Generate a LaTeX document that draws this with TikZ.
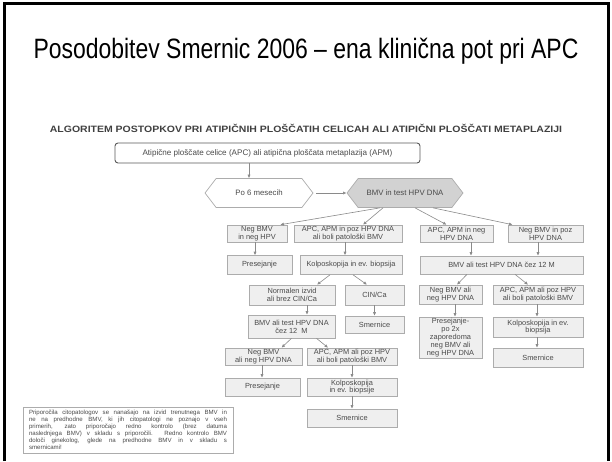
\documentclass[tikz,border=0pt]{standalone}
\usepackage{fontspec}
\setmainfont{Liberation Sans}
\usepackage{tikz}
\usetikzlibrary{arrows.meta,shapes.symbols}
\definecolor{boxline}{HTML}{ACACAC}
\definecolor{boxfill}{HTML}{EFEFEF}
\definecolor{boxtext}{HTML}{4A4A4A}
\definecolor{hexfill}{HTML}{D2D2D2}
\definecolor{pil}{HTML}{8A8A8A}
\tikzset{
  korak/.style={draw=boxline, fill=boxfill, line width=0.6pt, inner sep=0.5pt,
    text=boxtext, align=center, font=\fontsize{7.4}{7.8}\selectfont},
  heks/.style={signal, signal to=west and east, signal pointer angle=105,
    draw=boxline, line width=0.7pt, inner sep=1pt, text=boxtext,
    font=\fontsize{7.8}{8}\selectfont},
  pus/.style={-{Latex[length=3.5pt,width=3.2pt]}, draw=pil, line width=0.6pt}
}
\begin{document}
\begin{tikzpicture}[x=1pt, y=-1pt]
\useasboundingbox (0,0) rectangle (612,461);
% okvir prosojnice
\draw[line width=3pt] (4,461) -- (4,3.5) -- (608,3.5) -- (608,461);

% naslov
\node (naslov) at (306,51) {\scalebox{0.82}[1]{\fontsize{28}{32}\selectfont Posodobitev Smernic 2006 -- ena klinična pot pri APC}};
\node[text=black!75] (algoritem) at (306,128)
  {\scalebox{1.14}[1]{\bfseries\fontsize{9.2}{10}\selectfont ALGORITEM POSTOPKOV PRI ATIPIČNIH PLOŠČATIH CELICAH ALI ATIPIČNI PLOŠČATI METAPLAZIJI}};

% zacetek
\node[korak, fill=white, draw=black!65, line width=0.9pt, rounded corners=3pt,
  minimum width=305, minimum height=20, font=\fontsize{8.1}{9}\selectfont] (apc) at (267.5,153)
  {Atipične ploščate celice (APC) ali atipična ploščata metaplazija (APM)};
\node[heks, fill=white, minimum width=108, minimum height=29] (po6) at (259,193) {Po 6 mesecih};
\node[heks, fill=hexfill, minimum width=116, minimum height=29] (bmv) at (405,193) {BMV in test HPV DNA};

% prva vrsta
\node[korak, minimum width=60, minimum height=17] (negneg) at (257,233.5) {Neg BMV\\in neg HPV};
\node[korak, minimum width=108, minimum height=17] (apcpoz) at (348,233.5) {APC, APM in poz HPV DNA\\ali boli patološki BMV};
\node[korak, minimum width=73, minimum height=17] (apcneg) at (456.5,233.5) {APC, APM in neg\\HPV DNA};
\node[korak, minimum width=75, minimum height=17] (negpoz) at (545.5,233.5) {Neg BMV in poz\\HPV DNA};

% druga vrsta
\node[korak, minimum width=65, minimum height=19] (pres1) at (259.5,265) {Presejanje};
\node[korak, minimum width=102, minimum height=19] (kolpo1) at (351,265) {Kolposkopija in ev. biopsija};
\node[korak, minimum width=163, minimum height=18] (bmvd) at (501.5,265) {BMV ali test HPV DNA čez 12 M};

% tretja vrsta
\node[korak, minimum width=86, minimum height=20] (normal) at (292,295) {Normalen izvid\\ali brez CIN/Ca};
\node[korak, minimum width=59, minimum height=20] (cin) at (374.5,295) {CIN/Ca};
\node[korak, minimum width=63, minimum height=19] (negd) at (450.5,294.5) {Neg BMV ali\\neg HPV DNA};
\node[korak, minimum width=90, minimum height=19] (apcd) at (538,294.5) {APC, APM ali poz HPV\\ali boli patološki BMV};

% cetrta vrsta
\node[korak, minimum width=87, minimum height=23] (bmvl) at (291.5,326.5) {BMV ali test HPV DNA\\čez 12 \ M};
\node[korak, minimum width=59, minimum height=17] (smer1) at (374.5,324.5) {Smernice};
\node[korak, minimum width=63, minimum height=41] (pres2) at (450.5,337.5) {Presejanje-\\po 2x\\zaporedoma\\neg BMV ali\\neg HPV DNA};
\node[korak, minimum width=90, minimum height=20] (kolpo2) at (538,327) {Kolposkopija in ev.\\biopsija};
\node[korak, minimum width=90, minimum height=19] (smer2) at (538,357.5) {Smernice};

% peta in sesta vrsta
\node[korak, minimum width=77, minimum height=17] (negl) at (263.5,356.5) {Neg BMV\\ali neg HPV DNA};
\node[korak, minimum width=90, minimum height=17] (apcl) at (352,356.5) {APC, APM ali poz HPV\\ali boli patološki BMV};
\node[korak, minimum width=75, minimum height=18] (pres3) at (262.5,387) {Presejanje};
\node[korak, minimum width=90, minimum height=18] (kolpo3) at (352,387) {Kolposkopija\\in ev. biopsije};
\node[korak, minimum width=90, minimum height=18] (smer3) at (352,418) {Smernice};

% opomba
\node[korak, fill=white, anchor=north, minimum width=210, minimum height=44, inner sep=3pt,
  text width=198, align=justify, font=\fontsize{6.1}{7}\selectfont] (opomba) at (128,407)
  {Priporočila citopatologov se nanašajo na izvid trenutnega BMV in\linebreak
   ne na predhodne BMV, ki jih citopatologi ne poznajo v vseh\linebreak
   primerih, zato priporočajo redno kontrolo (brez datuma\linebreak
   naslednjega BMV) v skladu s priporočili. Redno kontrolo BMV\linebreak
   določi ginekolog, glede na predhodne BMV in v skladu s\linebreak
   smernicami!};

% puscice
\draw[pus] ([xshift=-18.5]apc.south) -- ([xshift=-18.5]apc.south |- po6.north);
\draw[pus, shorten <=3pt] (po6.east) -- (bmv.west);
\draw[pus] ([xshift=-25]bmv.south) -- ([xshift=-7]negneg.north east);
\draw[pus] ([xshift=-22]bmv.south) -- ([xshift=15]apcpoz.north);
\draw[pus] ([xshift=10]bmv.south) -- ([xshift=-10]apcneg.north);
\draw[pus] ([xshift=28]bmv.south) -- ([xshift=-33]negpoz.north);
\draw[pus] ([xshift=-2]negneg.south) -- ([xshift=-2]negneg.south |- pres1.north);
\draw[pus] ([xshift=-3]apcpoz.south) -- ([xshift=-3]apcpoz.south |- kolpo1.north);
\draw[pus] ([xshift=14.5]apcneg.south) -- ([xshift=14.5]apcneg.south |- bmvd.north);
\draw[pus] ([xshift=-7.5]negpoz.south) -- ([xshift=-7.5]negpoz.south |- bmvd.north);
\draw[pus] ([xshift=-21]kolpo1.south) -- ([xshift=25]normal.north);
\draw[pus] ([xshift=2]kolpo1.south) -- ([xshift=-7.5]cin.north);
\draw[pus] ([xshift=-34.5]bmvd.south) -- ([xshift=6.5]negd.north);
\draw[pus] ([xshift=13.5]bmvd.south) -- ([xshift=-10]apcd.north);
\draw[pus] ([xshift=15]normal.south) -- ([xshift=15]normal.south |- bmvl.north);
\draw[pus] (cin) -- (smer1);
\draw[pus] ([xshift=4.5]negd.south) -- ([xshift=4.5]negd.south |- pres2.north);
\draw[pus] ([xshift=-1]apcd.south) -- ([xshift=-1]apcd.south |- kolpo2.north);
\draw[pus] ([xshift=-1]kolpo2.south) -- ([xshift=-1]kolpo2.south |- smer2.north);
\draw[pus] (bmvl.south) -- ([xshift=18]negl.north);
\draw[pus] ([xshift=25]bmvl.south) -- ([xshift=-24]apcl.north);
\draw[pus] ([xshift=-1.5]negl.south) -- ([xshift=-1.5]negl.south |- pres3.north);
\draw[pus] (apcl) -- (kolpo3);
\draw[pus] (kolpo3) -- (smer3);
\end{tikzpicture}
\end{document}
